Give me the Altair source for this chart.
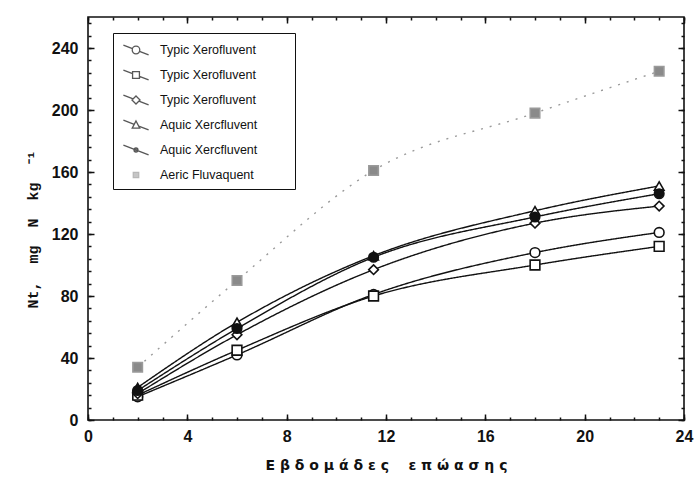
import altair as alt
import pandas as pd

# ---- data ----
weeks = [2, 6, 11.5, 18, 23]
typic_circle = [15, 42, 81, 108, 121]
typic_square = [16, 45, 80, 100, 112]
typic_diamond = [17, 55, 97, 127, 138]
aquic_triangle = [21, 63, 106, 135, 151]
aquic_dot = [19, 59, 105, 131, 146]
aeric = [34, 90, 161, 198, 225]

series_keys = ["s1", "s2", "s3", "s4", "s5", "s6"]
series_labels = ["Typic Xerofluvent", "Typic Xerofluvent", "Typic Xerofluvent",
                 "Aquic Xercfluvent", "Aquic Xercfluvent", "Aeric Fluvaquent"]
series_values = [typic_circle, typic_square, typic_diamond, aquic_triangle, aquic_dot, aeric]

x_major = [0, 4, 8, 12, 16, 20, 24]
x_minor = list(range(0, 25))
y_major = [0, 40, 80, 120, 160, 200, 240]
y_minor = list(range(0, 257, 8))

x_title = "Ε β δ ο μ ά δ ε ς\u00a0\u00a0\u00a0\u00a0ε π ώ α σ η ς"
y_title = "Nt,\u00a0\u00a0mg\u00a0\u00a0N\u00a0\u00a0kg\u00a0\u00a0⁻¹"

rows = []
for k, vals in zip(series_keys, series_values):
    for w, v in zip(weeks, vals):
        rows.append({"series": k, "week": w, "nt": v})
df = pd.DataFrame(rows)

# ---- styles ----
stroke_range = ["#111111"] * 5 + ["#9a9a9a"]
fill_range = ["white", "white", "white", "white", "#111111", "#8a8a8a"]
shape_range = ["circle", "square", "diamond", "triangle-up", "circle", "square"]
size_range = [95, 90, 95, 95, 20, 110]
dash_range = [[1, 0]] * 5 + [[2, 7]]

# legend symbols: marker with a diagonal line through it
legend_paths = [
    "M-1.4,-0.55L-0.39,-0.156M0.39,0.156L1.4,0.55M0.42,0A0.42,0.42 0 1,1 -0.42,0A0.42,0.42 0 1,1 0.42,0Z",
    "M-1.4,-0.55L-0.38,-0.152M0.38,0.152L1.4,0.55M-0.38,-0.38L0.38,-0.38L0.38,0.38L-0.38,0.38Z",
    "M-1.4,-0.55L-0.32,-0.129M0.32,0.129L1.4,0.55M0,-0.45L0.45,0L0,0.45L-0.45,0Z",
    "M-1.4,-0.55L-0.2,-0.078M0.3,0.12L1.4,0.55M0,-0.45L0.42,0.35L-0.42,0.35Z",
    "M-1.4,-0.55L1.4,0.55M0.22,0A0.22,0.22 0 1,1 -0.22,0A0.22,0.22 0 1,1 0.22,0Z",
    "M-0.3,-0.3L0.3,-0.3L0.3,0.3L-0.3,0.3Z",
]

pad_sp = "\u2800" * 3
label_expr = " : ".join(
    f"datum.label == '{k}' ? '{lab}{pad_sp}'" for k, lab in zip(series_keys, series_labels)
) + " : ''"

TICK_FONT = "Liberation Sans"
x_scale = alt.Scale(domain=[0, 24], nice=False, zero=False)
y_scale = alt.Scale(domain=[0, 260], nice=False)


def tick_axis(orient, values, size):
    return alt.Axis(orient=orient, values=values, tickSize={"expr": str(-size)}, labels=False,
                    domain=False, grid=False, title=None, tickColor="#111111", tickWidth=1.5)


base = alt.Chart(df)

lines = base.mark_line(interpolate="monotone", strokeWidth=1.4).encode(
    x=alt.X("week:Q", scale=x_scale, axis=alt.Axis(
        orient="bottom", values=x_major, tickSize={"expr": "-6"}, tickWidth=1.5, tickColor="#111111",
        domain=False, grid=False, labelFont=TICK_FONT, labelFontWeight="bold", labelFontSize=16,
        labelColor="#111111", labelPadding=14, labelFlush=False,
        title=x_title, titleFont="DejaVu Sans", titleFontSize=14,
        titleFontWeight="bold", titleColor="#111111", titlePadding=14)),
    y=alt.Y("nt:Q", scale=y_scale, axis=alt.Axis(
        orient="left", values=y_major, tickSize={"expr": "-6"}, tickWidth=1.5, tickColor="#111111",
        domain=False, grid=False, labelFont=TICK_FONT, labelFontWeight="bold", labelFontSize=16,
        labelColor="#111111", labelPadding=16,
        title=y_title, titleFont="Liberation Mono", titleFontSize=15,
        titleFontWeight="bold", titleColor="#111111", titleX=-48, titleY=212)),
    detail="series:N",
    stroke=alt.Stroke("series:N", scale=alt.Scale(domain=series_keys, range=stroke_range), legend=None),
    strokeDash=alt.StrokeDash("series:N", scale=alt.Scale(domain=series_keys, range=dash_range), legend=None),
)

points = base.mark_point(filled=True, strokeWidth=1.6, opacity=1).encode(
    x=alt.X("week:Q", scale=x_scale, axis=None),
    y=alt.Y("nt:Q", scale=y_scale, axis=None),
    shape=alt.Shape("series:N", scale=alt.Scale(domain=series_keys, range=shape_range), legend=None),
    fill=alt.Fill("series:N", scale=alt.Scale(domain=series_keys, range=fill_range), legend=None),
    stroke=alt.Stroke("series:N", scale=alt.Scale(domain=series_keys, range=stroke_range), legend=None),
    size=alt.Size("series:N", scale=alt.Scale(domain=series_keys, range=size_range), legend=None),
)

leg = alt.Legend(
    title=None, orient="none", legendX=25, legendY=16, strokeColor="#111111", padding=7,
    symbolSize=324, symbolStrokeWidth=1.3, symbolOffset=6, rowPadding=7, labelOffset=14,
    labelFont="Liberation Sans Narrow, Liberation Sans", labelFontSize=12.5, labelColor="#111111",
    labelExpr=label_expr, labelLimit=400,
)

legend_layer = base.transform_filter("datum.week < 0").mark_point(filled=True).encode(
    x=alt.X("week:Q", scale=x_scale, axis=None),
    y=alt.Y("nt:Q", scale=y_scale, axis=None),
    shape=alt.Shape("series:N", scale=alt.Scale(domain=series_keys, range=legend_paths), legend=leg),
    fill=alt.Fill("series:N", scale=alt.Scale(domain=series_keys, range=fill_range), legend=leg),
    stroke=alt.Stroke("series:N", scale=alt.Scale(domain=series_keys, range=stroke_range), legend=leg),
)

empty = base.transform_filter("datum.week < 0").mark_point(opacity=0)
frame_major = empty.encode(
    x=alt.X("week:Q", scale=x_scale, axis=tick_axis("top", x_major, 6)),
    y=alt.Y("nt:Q", scale=y_scale, axis=tick_axis("right", y_major, 6)),
)
minor_lb = empty.encode(
    x=alt.X("week:Q", scale=x_scale, axis=tick_axis("bottom", x_minor, 3)),
    y=alt.Y("nt:Q", scale=y_scale, axis=tick_axis("left", y_minor, 3)),
)
minor_tr = empty.encode(
    x=alt.X("week:Q", scale=x_scale, axis=tick_axis("top", x_minor, 3)),
    y=alt.Y("nt:Q", scale=y_scale, axis=tick_axis("right", y_minor, 3)),
)

chart = alt.layer(lines, points, legend_layer, frame_major, minor_lb, minor_tr).resolve_scale(
    shape="independent", fill="independent", stroke="independent", size="independent",
    strokeDash="independent",
).resolve_axis(x="independent", y="independent").properties(
    width=596, height=403,
    padding={"left": 88, "top": 17, "right": 14, "bottom": 59},
    autosize=alt.AutoSizeParams(type="none"),
    background="white",
).configure_view(stroke="#111111", strokeWidth=1.6)

chart.save("out.html", embed_options={"renderer": "svg", "actions": False})
